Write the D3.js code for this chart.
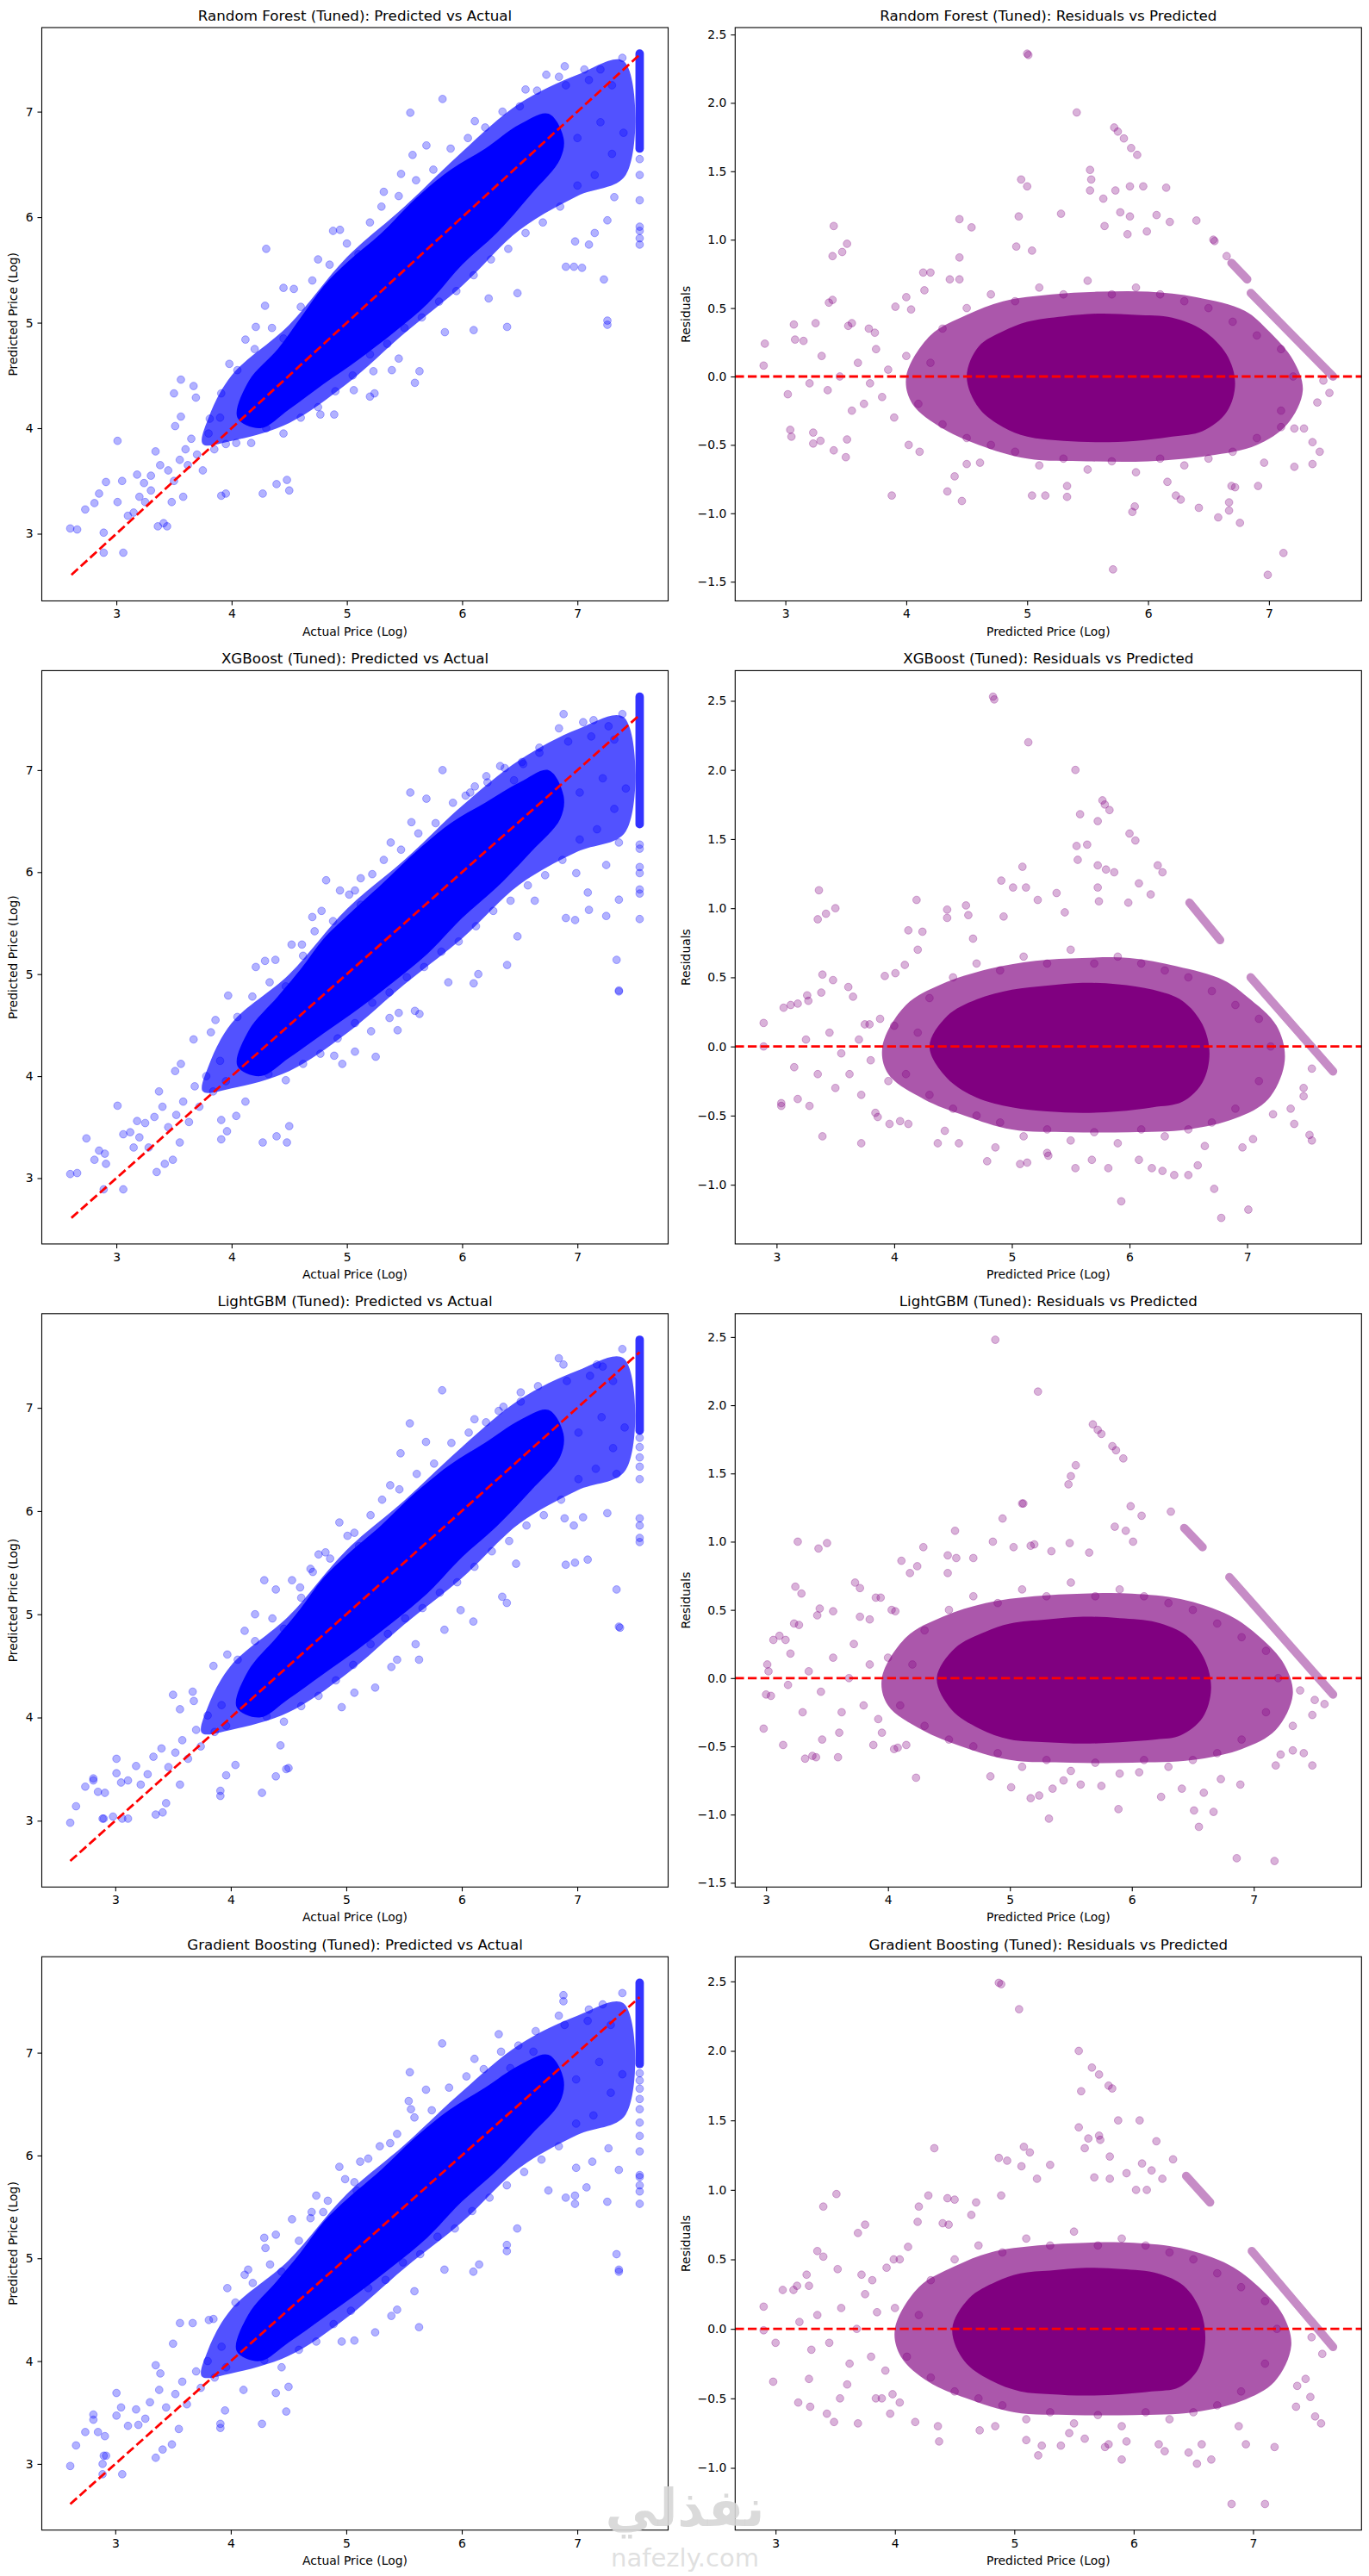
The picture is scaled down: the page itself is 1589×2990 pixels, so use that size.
<!DOCTYPE html>
<html>
<head>
<meta charset="utf-8">
<script src="https://cdn.jsdelivr.net/npm/d3@7"></script>
<style>
  body { margin: 0; background: #fff; }
  text { font-family: "DejaVu Sans", sans-serif; }
</style>
</head>
<body>
<svg id="fig"></svg>
<script>
// ---- data ----
var modelNames = ["Random Forest", "XGBoost", "LightGBM", "Gradient Boosting"];
var lineRange = [2.61, 7.54];   // y = x reference, min..max actual
var capActual = 7.54;           // actual prices are capped here

// predicted vs actual: scattered points [actual, predicted]
var rfPts = [[2.60,3.05],[2.66,3.04],[2.73,3.23],[2.81,3.29],[2.85,3.38],[2.91,3.49],[2.89,2.82],[3.06,2.82],[2.89,3.01],[3.01,3.88],[3.05,3.50],[3.01,3.30],[3.10,3.17],[3.18,3.56],[3.24,3.48],[3.30,3.41],[3.34,3.78],[3.36,3.07],[3.44,3.07],[3.41,3.10],[3.50,4.33],[3.56,4.46],[3.56,4.11],[3.60,3.80],[3.51,4.02],[3.67,4.40],[3.69,4.29],[3.91,4.33],[3.98,4.61],[3.81,4.09],[3.91,3.36],[3.95,3.38],[4.27,3.38],[4.39,3.47],[4.48,3.51],[4.50,3.41],[4.04,3.86],[4.17,3.86],[4.30,5.70],[4.29,5.16],[4.45,5.33],[4.54,5.32],[4.21,4.96],[4.12,4.84],[4.88,5.87],[4.94,5.88],[5.47,6.41],[5.55,6.99],[5.57,6.59],[5.83,7.12],[5.32,6.24],[5.69,6.68],[4.77,4.13],[4.89,4.13],[5.06,4.36],[5.20,4.30],[5.24,4.33],[5.23,4.54],[5.59,4.43],[5.63,4.54],[5.39,4.55],[5.45,4.66],[5.85,4.91],[6.10,4.93],[6.39,4.96],[6.48,5.28],[6.23,5.23],[6.90,5.53],[6.97,5.53],[7.04,5.52],[6.98,5.77],[7.10,5.74],[7.15,5.85],[7.23,5.41],[7.26,4.98],[7.26,5.02],[7.26,5.97],[7.32,6.19],[6.89,7.43],[7.06,7.40],[7.20,7.40],[7.39,7.51],[6.73,7.35],[6.84,7.33],[6.11,6.91],[6.55,7.21],[3.20,3.35],[3.25,3.30],[3.30,3.55],[3.38,3.65],[3.45,3.60],[3.50,3.50],[3.55,3.70],[3.62,3.65],[3.65,3.90],[3.70,3.75],[3.75,3.60],[3.80,3.95],[3.85,3.80],[3.90,4.10],[3.95,3.85],[3.48,3.30],[3.58,3.35],[3.15,3.20],
  [4.05,4.55],[4.20,4.75],[4.35,4.95],[4.45,4.85],[4.60,5.15],[4.70,5.40],[4.75,5.60],[4.85,5.55],[5.00,5.75],[5.10,5.65],[5.20,5.95],[5.30,6.10],[5.45,6.20],[5.60,6.35],[5.75,6.45],[5.90,6.65],[6.05,6.75],[6.20,6.85],[6.35,7.00],[6.50,7.05],[6.65,7.20],[6.90,7.25],[7.10,7.30],[7.30,7.25],[4.30,4.00],[4.45,3.95],[4.60,4.10],[4.75,4.20],[4.90,4.35],[5.05,4.50],[5.20,4.70],[5.35,4.80],[5.50,4.95],[5.65,5.05],[5.80,5.20],[5.95,5.30],[6.10,5.45],[6.25,5.60],[6.40,5.70],[6.55,5.85],[6.70,5.95],[6.85,6.10],[7.00,6.30],[7.15,6.40],[7.30,6.60],[7.40,6.80],[7.20,6.90],[7.00,6.75]];
var xgbPts = [[2.60,3.04],[2.66,3.05],[2.74,3.39],[2.81,3.18],[2.85,3.27],[2.90,3.24],[2.91,3.14],[2.89,2.89],[3.06,2.89],[3.01,3.71],[3.06,3.43],[3.12,3.45],[3.18,3.56],[3.25,3.54],[3.35,3.06],[3.42,3.14],[3.49,3.18],[3.37,3.85],[3.51,4.05],[3.56,4.12],[3.67,4.36],[3.82,4.43],[3.86,4.55],[3.97,4.79],[3.91,3.38],[3.91,3.57],[3.96,3.46],[4.04,3.61],[4.12,3.75],[4.27,3.35],[4.39,3.41],[4.48,3.35],[4.50,3.51],[4.21,5.07],[4.29,5.13],[4.38,5.14],[4.52,5.29],[4.61,5.29],[4.70,5.56],[4.82,5.92],[4.94,5.82],[5.07,5.82],[5.12,5.94],[5.38,6.29],[5.55,6.78],[5.56,6.49],[5.69,6.72],[5.83,7.00],[6.03,6.75],[6.11,6.84],[6.21,6.94],[6.33,7.04],[6.45,6.90],[6.53,7.06],[6.67,7.17],[6.84,7.41],[6.88,7.55],[7.05,7.47],[7.14,7.49],[7.27,7.43],[7.39,7.55],[4.89,4.20],[4.96,4.12],[5.07,4.24],[5.25,4.19],[5.21,4.44],[5.37,4.57],[5.44,4.45],[5.45,4.62],[5.59,4.64],[5.63,4.61],[5.88,4.92],[6.10,4.91],[6.14,5.00],[6.39,5.09],[6.48,5.37],[6.63,5.72],[6.90,5.55],[6.98,5.53],[6.99,5.99],[7.09,5.80],[7.10,5.63],[7.25,5.57],[7.36,5.73],[7.34,5.14],[7.36,4.84],[7.36,4.83],[7.25,6.07],[7.36,6.29],[3.20,3.40],[3.28,3.30],[3.33,3.60],[3.40,3.70],[3.45,3.50],[3.52,3.62],[3.58,3.75],[3.63,3.55],[3.68,3.90],[3.72,3.70],[3.78,4.00],[3.84,3.85],[3.90,4.15],[3.95,3.95],[3.15,3.30],[3.55,3.35],
  [4.05,4.58],[4.18,4.78],[4.33,4.92],[4.47,4.88],[4.62,5.18],[4.72,5.42],[4.78,5.62],[4.88,5.52],[5.02,5.78],[5.12,5.68],[5.22,5.98],[5.32,6.12],[5.47,6.22],[5.62,6.38],[5.77,6.48],[5.92,6.68],[6.07,6.78],[6.22,6.88],[6.37,7.02],[6.52,7.08],[6.67,7.22],[6.92,7.28],[7.12,7.33],[7.32,7.30],[4.32,4.02],[4.47,3.96],[4.62,4.12],[4.77,4.22],[4.92,4.37],[5.07,4.52],[5.22,4.72],[5.37,4.82],[5.52,4.97],[5.67,5.07],[5.82,5.22],[5.97,5.32],[6.12,5.47],[6.27,5.62],[6.42,5.72],[6.57,5.87],[6.72,5.97],[6.87,6.12],[7.02,6.32],[7.17,6.42],[7.32,6.62],[7.42,6.82],[7.22,6.92],[7.02,6.78]];
var lgbmPts = [[2.61,2.98],[2.66,3.14],[2.74,3.33],[2.81,3.39],[2.81,3.41],[2.85,3.28],[2.91,3.27],[2.89,3.02],[2.90,3.02],[2.98,3.04],[3.06,3.02],[3.11,3.02],[3.01,3.60],[3.01,3.46],[3.05,3.37],[3.11,3.39],[3.18,3.53],[3.35,3.06],[3.41,3.08],[3.44,3.17],[3.50,4.22],[3.56,4.08],[3.67,4.25],[3.68,4.16],[3.85,4.50],[3.97,4.61],[3.91,3.29],[3.91,3.24],[3.96,3.44],[4.04,3.54],[4.27,3.27],[4.39,3.43],[4.48,3.50],[4.50,3.51],[4.43,3.73],[4.12,4.84],[4.21,5.00],[4.29,5.33],[4.39,5.24],[4.53,5.33],[4.60,5.26],[4.69,5.44],[4.82,5.60],[4.94,5.89],[5.07,5.79],[5.38,6.25],[5.47,6.56],[5.55,6.85],[5.69,6.67],[5.83,7.17],[6.11,6.89],[6.32,6.97],[6.51,7.15],[6.84,7.48],[6.88,7.42],[7.17,7.42],[7.22,7.40],[7.39,7.57],[4.96,4.10],[5.07,4.24],[5.25,4.29],[5.39,4.49],[5.44,4.56],[5.63,4.56],[5.60,4.71],[5.85,4.85],[5.99,5.04],[6.10,4.93],[6.39,5.11],[6.35,5.17],[6.47,5.49],[6.90,5.48],[6.98,5.50],[7.09,5.53],[6.97,5.86],[7.05,5.94],[6.89,5.93],[7.26,5.98],[7.34,6.36],[7.34,5.24],[7.36,4.88],[7.37,4.87],[3.22,3.35],[3.28,3.45],[3.33,3.62],[3.40,3.70],[3.46,3.52],[3.52,3.66],[3.58,3.78],[3.63,3.60],[3.70,3.88],[3.74,3.72],[3.80,4.02],[3.86,3.86],[3.92,4.12],[3.96,3.92],[3.56,3.35],
  [4.06,4.56],[4.21,4.74],[4.36,4.96],[4.46,4.86],[4.61,5.16],[4.71,5.41],[4.76,5.58],[4.86,5.54],[5.01,5.76],[5.11,5.66],[5.21,5.96],[5.31,6.11],[5.46,6.21],[5.61,6.36],[5.76,6.46],[5.91,6.66],[6.06,6.76],[6.21,6.86],[6.36,7.01],[6.51,7.06],[6.66,7.21],[6.91,7.26],[7.11,7.31],[7.31,7.26],[4.31,4.01],[4.46,3.96],[4.61,4.11],[4.76,4.21],[4.91,4.36],[5.06,4.51],[5.21,4.71],[5.36,4.81],[5.51,4.96],[5.66,5.06],[5.81,5.21],[5.96,5.31],[6.11,5.46],[6.26,5.61],[6.41,5.71],[6.56,5.86],[6.71,5.96],[6.86,6.11],[7.01,6.31],[7.16,6.41],[7.31,6.61],[7.41,6.81],[7.21,6.91],[7.01,6.76]];
var gbPts = [[2.61,2.98],[2.66,3.18],[2.74,3.31],[2.81,3.43],[2.81,3.48],[2.85,3.31],[2.91,3.27],[2.89,3.00],[2.90,3.08],[2.92,3.08],[2.89,2.90],[3.06,2.90],[3.01,3.69],[3.01,3.47],[3.05,3.55],[3.18,3.53],[3.11,3.37],[3.35,3.06],[3.41,3.14],[3.49,3.19],[3.35,3.96],[3.39,3.88],[3.50,4.17],[3.56,4.37],[3.67,4.37],[3.81,4.40],[3.85,4.41],[3.97,4.71],[3.91,3.35],[3.91,3.39],[3.95,3.52],[4.11,3.72],[4.27,3.39],[4.39,3.69],[4.48,3.51],[4.50,3.75],[4.12,4.84],[4.15,4.89],[4.29,5.20],[4.30,5.10],[4.39,5.23],[4.53,5.38],[4.70,5.45],[4.80,5.45],[4.94,5.89],[5.07,5.74],[5.12,5.94],[5.38,6.12],[5.54,6.53],[5.55,6.81],[5.56,6.45],[5.69,6.64],[5.83,7.09],[6.11,6.94],[6.32,7.18],[6.42,6.85],[6.62,7.01],[6.84,7.36],[6.88,7.56],[6.88,7.50],[7.10,7.42],[7.22,7.47],[7.39,7.58],[4.96,4.19],[5.07,4.20],[5.25,4.28],[5.39,4.44],[5.44,4.50],[5.63,4.33],[5.59,4.68],[5.85,4.89],[6.10,4.87],[6.15,4.94],[6.39,5.07],[6.39,5.13],[6.48,5.29],[6.75,5.66],[6.90,5.59],[6.98,5.53],[6.98,5.61],[6.99,5.88],[7.08,5.69],[7.13,5.94],[7.26,5.55],[7.36,5.86],[7.27,6.07],[7.34,5.04],[7.36,4.87],[7.36,4.89],[3.20,3.38],[3.26,3.44],[3.30,3.60],[3.38,3.72],[3.44,3.55],[3.52,3.68],[3.58,3.80],[3.62,3.58],[3.70,3.90],[3.74,3.74],[3.80,4.00],[3.86,3.84],[3.92,4.14],[3.96,3.94],[3.55,3.34],
  [4.04,4.57],[4.19,4.76],[4.34,4.94],[4.44,4.87],[4.59,5.17],[4.69,5.39],[4.74,5.61],[4.84,5.56],[4.99,5.77],[5.09,5.66],[5.19,5.97],[5.29,6.09],[5.44,6.21],[5.59,6.37],[5.74,6.44],[5.89,6.66],[6.04,6.77],[6.19,6.84],[6.34,7.01],[6.49,7.07],[6.64,7.21],[6.89,7.27],[7.09,7.31],[7.29,7.27],[4.29,4.01],[4.44,3.94],[4.59,4.11],[4.74,4.19],[4.89,4.36],[5.04,4.49],[5.19,4.71],[5.34,4.79],[5.49,4.96],[5.64,5.04],[5.79,5.21],[5.94,5.29],[6.09,5.46],[6.24,5.59],[6.39,5.71],[6.54,5.84],[6.69,5.96],[6.84,6.09],[6.99,6.31],[7.14,6.39],[7.29,6.61],[7.39,6.79],[7.19,6.91],[6.99,6.74]];

// dense saturated band and denser scatter around it, [actual, predicted] outlines
var rfCore = [[4.05,4.10],[4.15,4.45],[4.40,4.75],[4.60,5.05],[4.80,5.35],[5.00,5.57],[5.30,5.85],[5.60,6.18],[5.90,6.45],[6.20,6.65],[6.50,6.88],[6.75,6.98],[6.88,6.75],[6.85,6.55],[6.60,6.22],[6.30,5.85],[6.00,5.55],[5.70,5.18],[5.40,4.90],[5.10,4.65],[4.80,4.42],[4.50,4.18],[4.25,4.00]];
var rfHalo = [[3.75,3.85],[3.80,4.10],[4.00,4.50],[4.50,4.98],[5.00,5.62],[5.50,6.10],[6.00,6.62],[6.50,7.08],[7.00,7.35],[7.40,7.48],[7.42,6.40],[7.00,6.20],[6.50,5.88],[6.00,5.35],[5.50,4.90],[5.00,4.42],[4.50,4.05],[4.00,3.88]];
var xgbCore = [[4.05,4.10],[4.15,4.45],[4.40,4.78],[4.60,5.05],[4.80,5.35],[5.00,5.57],[5.30,5.88],[5.60,6.20],[5.90,6.48],[6.20,6.68],[6.50,6.88],[6.75,7.00],[6.88,6.75],[6.85,6.52],[6.60,6.20],[6.30,5.85],[6.00,5.55],[5.70,5.20],[5.40,4.92],[5.10,4.66],[4.80,4.42],[4.50,4.18],[4.25,4.00]];
var xgbHalo = [[3.75,3.85],[3.80,4.10],[4.00,4.52],[4.50,5.00],[5.00,5.64],[5.50,6.12],[6.00,6.65],[6.50,7.10],[7.00,7.40],[7.40,7.52],[7.42,6.40],[7.00,6.20],[6.50,5.88],[6.00,5.35],[5.50,4.90],[5.00,4.42],[4.50,4.05],[4.00,3.88]];
var lgbmCore = [[4.05,4.10],[4.15,4.45],[4.40,4.78],[4.60,5.05],[4.80,5.35],[5.00,5.57],[5.30,5.86],[5.60,6.18],[5.90,6.45],[6.20,6.66],[6.50,6.88],[6.75,6.98],[6.88,6.75],[6.85,6.52],[6.60,6.20],[6.30,5.85],[6.00,5.55],[5.70,5.20],[5.40,4.92],[5.10,4.66],[4.80,4.42],[4.50,4.18],[4.25,4.00]];
var lgbmHalo = [[3.75,3.85],[3.80,4.10],[4.00,4.50],[4.50,4.98],[5.00,5.62],[5.50,6.10],[6.00,6.62],[6.50,7.08],[7.00,7.36],[7.40,7.48],[7.42,6.40],[7.00,6.20],[6.50,5.88],[6.00,5.35],[5.50,4.90],[5.00,4.42],[4.50,4.05],[4.00,3.88]];
var gbCore = [[4.05,4.10],[4.15,4.45],[4.40,4.78],[4.60,5.05],[4.80,5.35],[5.00,5.57],[5.30,5.86],[5.60,6.18],[5.90,6.45],[6.20,6.66],[6.50,6.88],[6.75,6.98],[6.88,6.75],[6.85,6.52],[6.60,6.20],[6.30,5.85],[6.00,5.55],[5.70,5.20],[5.40,4.92],[5.10,4.66],[4.80,4.42],[4.50,4.18],[4.25,4.00]];
var gbHalo = [[3.75,3.85],[3.80,4.10],[4.00,4.50],[4.50,4.98],[5.00,5.62],[5.50,6.10],[6.00,6.62],[6.50,7.08],[7.00,7.36],[7.40,7.48],[7.42,6.40],[7.00,6.20],[6.50,5.88],[6.00,5.35],[5.50,4.90],[5.00,4.42],[4.50,4.05],[4.00,3.88]];

// column of capped actual prices: dense predicted range, then sparse ones
var rfCapDense = [7.55, 6.65],  rfCapPts = [6.55,6.40,6.16,5.91,5.87,5.80,5.74];
var xgbCapDense = [7.72, 6.47], xgbCapPts = [6.27,6.23,6.05,5.99,5.83,5.79,5.54];
var lgbmCapDense = [7.66, 6.78], lgbmCapPts = [6.71,6.62,6.52,6.43,6.31,5.93,5.86,5.74,5.70];
var gbCapDense = [7.68, 6.89],  gbCapPts = [6.80,6.73,6.65,6.55,6.45,6.32,6.19,6.04,5.81,5.79,5.71,5.65,5.53];

// residuals vs predicted: scattered points [predicted, residual]
var resRing = [[4.30,0.35],[4.50,0.50],[4.70,0.60],[4.90,0.55],[5.10,0.65],[5.30,0.60],[5.50,0.70],[5.70,0.60],[5.90,0.65],[6.10,0.60],[6.30,0.55],[6.50,0.50],[6.70,0.40],[6.90,0.30],[7.10,0.20],[7.20,0.00],[7.10,-0.25],[6.90,-0.45],[6.70,-0.55],[6.50,-0.60],[6.30,-0.65],[6.10,-0.60],[5.90,-0.70],[5.70,-0.62],[5.50,-0.68],[5.30,-0.60],[5.10,-0.65],[4.90,-0.55],[4.70,-0.50],[4.50,-0.45],[4.30,-0.35],[4.10,-0.20],[4.00,0.15],[4.20,0.10]];
var rfResPts = [[2.83,0.24],[2.82,0.08],[3.07,0.38],[3.08,0.27],[3.25,0.39],[3.15,0.26],[3.02,-0.13],[3.04,-0.39],[3.05,-0.44],[3.23,-0.41],[3.23,-0.49],[3.29,-0.47],[3.40,1.10],[3.51,0.97],[3.47,0.91],[3.39,0.88],[3.36,0.54],[3.39,0.56],[3.40,-0.54],[3.50,-0.59],[3.51,-0.46],[3.52,0.37],[3.55,0.39],[3.69,0.35],[3.74,0.32],[3.91,0.51],[4.00,0.58],[4.04,0.49],[3.88,-0.87],[4.14,0.76],[4.20,0.76],[4.15,0.63],[4.44,0.87],[4.54,1.09],[4.44,1.15],[4.36,0.71],[4.44,0.71],[4.34,-0.84],[4.46,-0.91],[4.40,-0.73],[4.11,-0.55],[4.02,-0.50],[4.50,-0.64],[4.61,-0.63],[4.93,1.17],[4.95,1.44],[5.00,1.39],[4.91,0.95],[5.04,0.92],[5.00,2.36],[5.01,2.35],[5.28,1.19],[5.41,1.93],[5.52,1.51],[5.53,1.44],[5.52,1.36],[5.72,1.82],[5.75,1.79],[5.80,1.74],[5.86,1.67],[5.91,1.62],[5.63,1.30],[5.73,1.36],[5.85,1.39],[5.96,1.39],[6.15,1.38],[5.77,1.20],[5.85,1.17],[5.64,1.10],[6.07,1.18],[6.40,1.14],[6.18,1.13],[5.99,1.06],[5.83,1.04],[6.54,1.00],[6.55,0.99],[6.65,0.88],[5.04,-0.87],[5.15,-0.87],[5.33,-0.88],[5.33,-0.80],[5.71,-1.41],[5.87,-0.99],[5.89,-0.95],[6.16,-0.77],[6.23,-0.87],[6.27,-0.90],[6.42,-0.96],[6.58,-1.03],[6.67,-0.98],[6.67,-0.92],[6.76,-1.07],[6.69,-0.80],[6.72,-0.81],[6.91,-0.80],[7.12,-1.29],[6.99,-1.45],[6.96,-0.63],[7.21,-0.66],[7.36,-0.64],[7.42,-0.55],[7.36,-0.48],[7.50,-0.12],[7.40,-0.19],[7.45,-0.03],[7.21,-0.38],[7.29,-0.38],[7.10,-0.37],[3.60,0.10],[3.70,-0.05],[3.65,-0.20],[3.80,-0.15],[3.85,0.05],[3.90,-0.30],[3.55,-0.25],[3.45,0.00],[3.35,-0.10],[3.20,-0.05],[3.30,0.15],[3.75,0.20]];
var xgbResPts = [[2.89,0.17],[2.89,0.00],[3.06,0.28],[3.12,0.30],[3.18,0.31],[3.26,0.37],[3.27,0.33],[3.36,1.13],[3.35,0.92],[3.42,0.96],[3.50,1.00],[3.39,0.52],[3.48,0.48],[3.61,0.43],[3.38,0.39],[3.04,-0.41],[3.04,-0.43],[3.28,-0.43],[3.18,-0.38],[3.39,-0.65],[3.72,-0.70],[3.65,0.36],[3.75,0.16],[3.79,0.16],[3.84,-0.48],[3.86,-0.51],[3.96,-0.56],[3.92,0.51],[4.01,0.53],[4.09,0.59],[4.12,0.84],[4.19,1.06],[4.20,0.70],[4.24,0.83],[4.05,-0.54],[4.12,-0.56],[4.37,-0.70],[4.43,-0.61],[4.55,-0.70],[4.45,0.99],[4.45,0.93],[4.61,1.02],[4.63,0.95],[4.67,0.78],[4.91,1.20],[4.93,0.94],[5.01,1.15],[5.09,1.30],[5.12,1.15],[5.14,2.20],[4.84,2.53],[4.85,2.51],[5.22,1.06],[5.38,1.11],[5.45,0.97],[5.54,2.00],[5.55,1.45],[5.56,1.35],[5.58,1.68],[5.64,1.46],[5.73,1.63],[5.77,1.78],[5.79,1.75],[5.83,1.71],[5.73,1.31],[5.80,1.28],[5.87,1.26],[6.00,1.54],[6.05,1.49],[6.24,1.31],[6.28,1.26],[6.08,1.18],[6.18,1.10],[5.99,1.04],[5.73,1.15],[5.74,1.05],[4.79,-0.83],[4.86,-0.73],[5.07,-0.85],[5.13,-0.84],[5.30,-0.77],[5.31,-0.79],[5.54,-0.88],[5.68,-0.82],[5.82,-0.88],[5.93,-1.12],[6.08,-0.82],[6.19,-0.88],[6.28,-0.90],[6.38,-0.93],[6.50,-0.93],[6.58,-0.86],[6.72,-1.03],[6.78,-1.24],[7.01,-1.18],[6.64,-0.72],[6.96,-0.73],[7.05,-0.67],[7.40,-0.56],[7.53,-0.64],[7.55,-0.68],[7.48,-0.36],[7.55,-0.16],[7.48,-0.30],[7.37,-0.45],[7.22,-0.49],[3.45,0.10],[3.55,-0.05],[3.62,-0.20],[3.70,0.05],[3.80,-0.10],[3.88,0.20],[3.35,-0.20],[3.25,0.05],[3.15,-0.15],[3.50,-0.30],[3.72,-0.35],[3.95,-0.25]];
var lgbmResPts = [[2.98,-0.37],[3.01,0.10],[3.02,0.05],[3.00,-0.12],[3.04,-0.13],[3.14,-0.49],[3.06,0.28],[3.11,0.31],[3.16,0.28],[3.20,0.18],[3.26,1.00],[3.24,0.67],[3.29,0.62],[3.23,0.40],[3.27,0.39],[3.43,0.95],[3.50,0.99],[3.44,0.51],[3.55,0.49],[3.42,0.46],[3.32,-0.59],[3.38,-0.57],[3.41,-0.58],[3.59,-0.58],[3.46,-0.45],[3.73,0.70],[3.77,0.66],[3.77,0.45],[3.85,0.43],[3.90,0.59],[3.94,0.59],[4.03,0.50],[4.06,0.49],[4.11,0.86],[4.18,0.77],[4.24,0.82],[4.29,0.96],[4.23,-0.73],[4.15,-0.49],[4.05,-0.52],[4.08,-0.51],[3.95,-0.40],[3.88,-0.49],[4.55,1.08],[4.56,0.88],[4.49,0.90],[4.49,0.77],[4.70,0.88],[4.86,1.00],[4.94,1.17],[5.03,0.96],[5.10,1.28],[5.11,1.28],[5.17,0.97],[5.20,0.98],[4.88,2.48],[5.23,2.10],[5.34,0.93],[5.48,1.42],[5.50,1.48],[5.54,1.56],[5.49,0.99],[5.65,0.92],[5.68,1.86],[5.72,1.82],[5.75,1.79],[5.84,1.70],[5.87,1.67],[5.93,1.61],[5.99,1.26],[6.08,1.19],[6.32,1.22],[6.01,1.00],[5.86,1.11],[5.95,1.08],[4.84,-0.72],[5.01,-0.80],[5.17,-0.88],[5.24,-0.86],[5.32,-1.03],[5.35,-0.81],[5.44,-0.75],[5.58,-0.78],[5.75,-0.79],[5.89,-0.96],[6.06,-0.69],[6.24,-0.87],[6.41,-0.81],[6.55,-1.09],[6.51,-0.97],[6.67,-0.98],[6.59,-0.84],[6.86,-1.32],[7.17,-1.34],[6.89,-0.78],[6.73,-0.74],[7.48,-0.64],[7.41,-0.55],[7.32,-0.53],[7.32,-0.35],[7.48,-0.27],[7.58,-0.19],[7.50,-0.16],[7.38,-0.09],[7.18,-0.64],[7.22,-0.56],[3.35,0.05],[3.45,-0.10],[3.55,0.15],[3.62,-0.25],[3.68,0.00],[3.80,-0.20],[3.85,0.10],[3.30,-0.25],[3.18,-0.05],[3.92,-0.30],[3.72,0.25],[3.60,-0.40]];
var gbResPts = [[2.90,0.16],[2.90,-0.01],[2.98,-0.38],[3.00,-0.10],[3.06,0.28],[3.15,0.28],[3.18,0.31],[3.28,0.31],[3.26,0.39],[3.19,-0.53],[3.29,-0.56],[3.43,-0.61],[3.49,-0.67],[3.69,-0.68],[3.54,-0.50],[3.28,-0.36],[3.40,0.88],[3.51,0.97],[3.35,0.56],[3.40,0.52],[3.52,0.43],[3.69,0.69],[3.75,0.75],[3.72,0.39],[3.81,0.35],[3.84,-0.50],[3.89,-0.50],[3.96,-0.61],[3.98,-0.47],[4.04,-0.53],[3.93,0.44],[3.99,0.50],[4.04,0.50],[4.11,0.59],[4.19,0.77],[4.20,0.88],[4.17,-0.67],[4.36,-0.70],[4.37,-0.81],[4.33,1.30],[4.28,0.96],[4.44,0.94],[4.50,0.93],[4.45,0.75],[4.40,0.76],[4.64,0.82],[4.68,0.91],[4.71,-0.73],[4.84,-0.70],[4.87,2.49],[4.89,2.48],[5.04,2.30],[4.87,1.23],[4.94,1.21],[4.89,0.96],[5.06,1.17],[5.08,1.31],[5.13,1.27],[5.19,1.08],[5.30,1.18],[5.54,2.00],[5.56,1.71],[5.65,1.88],[5.71,1.83],[5.79,1.75],[5.82,1.73],[5.54,1.45],[5.59,1.30],[5.62,1.37],[5.71,1.39],[5.72,1.36],[5.87,1.50],[6.05,1.50],[6.19,1.35],[5.80,1.24],[5.67,1.09],[5.80,1.08],[5.94,1.12],[6.07,1.19],[6.15,1.14],[6.33,1.22],[6.02,1.00],[6.11,1.00],[6.24,1.08],[5.10,-0.80],[5.20,-0.91],[5.23,-0.84],[5.39,-0.84],[5.46,-0.75],[5.59,-0.79],[5.76,-0.85],[5.79,-0.83],[5.90,-0.94],[5.94,-0.81],[6.21,-0.83],[6.26,-0.88],[6.46,-0.89],[6.53,-0.97],[6.57,-0.83],[6.65,-0.94],[6.82,-1.26],[7.10,-1.26],[6.94,-0.83],[7.18,-0.85],[6.88,-0.70],[7.52,-0.63],[7.57,-0.68],[7.48,-0.49],[7.44,-0.36],[7.58,-0.18],[7.49,-0.06],[7.36,-0.56],[7.37,-0.41],[3.35,0.10],[3.45,-0.10],[3.55,0.15],[3.62,-0.25],[3.68,0.00],[3.80,-0.20],[3.85,0.12],[3.30,-0.15],[3.20,0.05],[3.92,-0.30],[3.75,0.25],[3.60,-0.40]];

// dense clouds of residuals, [predicted, residual] outlines
var rfResCore = [[4.50,0.00],[4.60,0.22],[4.80,0.33],[5.00,0.40],[5.30,0.44],[5.60,0.46],[5.90,0.45],[6.20,0.43],[6.45,0.34],[6.65,0.16],[6.72,-0.05],[6.65,-0.26],[6.45,-0.40],[6.20,-0.44],[5.90,-0.47],[5.60,-0.48],[5.30,-0.47],[5.00,-0.44],[4.80,-0.37],[4.60,-0.23]];
var rfResHalo = [[4.00,0.00],[4.20,0.30],[4.50,0.45],[4.80,0.55],[5.20,0.60],[5.60,0.62],[6.00,0.62],[6.40,0.58],[6.80,0.48],[7.00,0.33],[7.20,0.12],[7.28,-0.10],[7.15,-0.35],[6.90,-0.50],[6.50,-0.58],[6.00,-0.62],[5.50,-0.62],[5.00,-0.60],[4.60,-0.50],[4.30,-0.38],[4.05,-0.20]];
var xgbResCore = [[4.30,0.00],[4.45,0.22],[4.70,0.34],[5.00,0.41],[5.30,0.44],[5.60,0.46],[5.90,0.45],[6.20,0.41],[6.45,0.33],[6.62,0.16],[6.68,-0.05],[6.62,-0.26],[6.45,-0.40],[6.20,-0.44],[5.90,-0.47],[5.60,-0.48],[5.30,-0.47],[5.00,-0.44],[4.70,-0.37],[4.45,-0.23]];
var xgbResHalo = [[3.90,0.00],[4.10,0.30],[4.40,0.45],[4.80,0.56],[5.20,0.62],[5.60,0.64],[6.00,0.64],[6.40,0.58],[6.80,0.48],[7.00,0.36],[7.25,0.15],[7.32,-0.10],[7.18,-0.38],[6.90,-0.52],[6.50,-0.60],[6.00,-0.62],[5.50,-0.62],[5.00,-0.60],[4.60,-0.50],[4.25,-0.38],[3.95,-0.20]];
var lgbmResCore = [[4.40,0.00],[4.55,0.22],[4.80,0.34],[5.00,0.40],[5.30,0.43],[5.60,0.45],[5.90,0.44],[6.20,0.41],[6.45,0.31],[6.60,0.13],[6.65,-0.08],[6.58,-0.29],[6.40,-0.42],[6.20,-0.45],[5.90,-0.47],[5.60,-0.48],[5.30,-0.47],[5.00,-0.45],[4.75,-0.37],[4.52,-0.23]];
var lgbmResHalo = [[3.95,0.00],[4.15,0.30],[4.45,0.45],[4.80,0.55],[5.20,0.60],[5.60,0.62],[6.00,0.62],[6.40,0.58],[6.80,0.46],[7.05,0.30],[7.25,0.10],[7.32,-0.12],[7.18,-0.38],[6.90,-0.52],[6.50,-0.60],[6.00,-0.62],[5.50,-0.62],[5.00,-0.60],[4.60,-0.50],[4.28,-0.38],[4.00,-0.20]];
var gbResCore = [[4.48,0.00],[4.62,0.22],[4.85,0.34],[5.05,0.40],[5.30,0.42],[5.60,0.44],[5.90,0.43],[6.20,0.40],[6.42,0.31],[6.56,0.13],[6.60,-0.08],[6.54,-0.29],[6.38,-0.42],[6.15,-0.45],[5.90,-0.47],[5.60,-0.48],[5.30,-0.47],[5.05,-0.45],[4.80,-0.37],[4.58,-0.23]];
var gbResHalo = [[4.00,0.00],[4.20,0.30],[4.50,0.45],[4.80,0.55],[5.20,0.60],[5.60,0.62],[6.00,0.62],[6.40,0.58],[6.80,0.46],[7.05,0.30],[7.25,0.10],[7.32,-0.12],[7.18,-0.38],[6.90,-0.52],[6.50,-0.60],[6.00,-0.62],[5.50,-0.62],[5.00,-0.60],[4.60,-0.50],[4.28,-0.38],[4.05,-0.20]];

// residuals of capped prices line up on a diagonal: [p1, r1, p2, r2]
var rfResDiag = [[6.69,0.83,6.82,0.71],[6.85,0.61,7.53,0.00]];
var xgbResDiag = [[6.51,1.04,6.77,0.77],[7.03,0.50,7.73,-0.18]];
var lgbmResDiag = [[6.43,1.10,6.58,0.96],[6.80,0.74,7.65,-0.12]];
var gbResDiag = [[6.44,1.10,6.64,0.91],[6.99,0.56,7.67,-0.13]];

var models = [
  {name: modelNames[0], pts: rfPts, core: rfCore, halo: rfHalo, capDense: rfCapDense, capPts: rfCapPts, resPts: rfResPts, resCore: rfResCore, resHalo: rfResHalo, resDiag: rfResDiag},
  {name: modelNames[1], pts: xgbPts, core: xgbCore, halo: xgbHalo, capDense: xgbCapDense, capPts: xgbCapPts, resPts: xgbResPts, resCore: xgbResCore, resHalo: xgbResHalo, resDiag: xgbResDiag},
  {name: modelNames[2], pts: lgbmPts, core: lgbmCore, halo: lgbmHalo, capDense: lgbmCapDense, capPts: lgbmCapPts, resPts: lgbmResPts, resCore: lgbmResCore, resHalo: lgbmResHalo, resDiag: lgbmResDiag},
  {name: modelNames[3], pts: gbPts, core: gbCore, halo: gbHalo, capDense: gbCapDense, capPts: gbCapPts, resPts: gbResPts, resCore: gbResCore, resHalo: gbResHalo, resDiag: gbResDiag}
];

// ---- layout ----
var W = 1589, H = 2990;
var colLeft = [48.5, 853.3], axW = 727, axH = 665.5;
var rowTop = [32, 778.4, 1524.8, 2271.2];
var ptR = 4.4;

var svg = d3.select("#fig").attr("width", W).attr("height", H);
svg.append("rect").attr("width", W).attr("height", H).attr("fill", "#fff");

// matplotlib-style 5% margins
function pad(ext) {
  var m = (ext[1] - ext[0]) * 0.05;
  return [ext[0] - m, ext[1] + m];
}

function frame(g, x, y, yTicks, yFmt, title, xLabel, yLabel, yLabelOff) {
  var xa = g.append("g")
      .attr("transform", "translate(0," + axH + ")")
      .call(d3.axisBottom(x).ticks(5).tickFormat(d3.format("d")).tickSize(5).tickPadding(5).tickSizeOuter(0));
  var ya = g.append("g")
      .call(d3.axisLeft(y).ticks(yTicks).tickFormat(yFmt).tickSize(5).tickPadding(5).tickSizeOuter(0));
  [xa, ya].forEach(function(a) {
    a.select(".domain").remove();
    a.selectAll("line").attr("stroke", "#000").attr("stroke-width", 1.1);
    a.selectAll("text").attr("font-size", 13.9).attr("fill", "#000")
      .attr("font-family", "DejaVu Sans, sans-serif");
  });
  g.append("rect")
      .attr("width", axW).attr("height", axH)
      .attr("fill", "none").attr("stroke", "#000").attr("stroke-width", 1.1);
  g.append("text")
      .attr("x", axW / 2).attr("y", -8.5)
      .attr("text-anchor", "middle").attr("font-size", 16.7)
      .text(title);
  g.append("text")
      .attr("x", axW / 2).attr("y", axH + 40)
      .attr("text-anchor", "middle").attr("font-size", 13.9)
      .text(xLabel);
  g.append("text")
      .attr("transform", "translate(" + yLabelOff + "," + (axH / 2) + ") rotate(-90)")
      .attr("text-anchor", "middle").attr("dy", "0.35em").attr("font-size", 13.9)
      .text(yLabel);
}

var blob = d3.line().curve(d3.curveCatmullRomClosed.alpha(0.5));

function dots(sel, data, cx, cy, color) {
  sel.append("g").selectAll("circle")
    .data(data)
    .enter().append("circle")
      .attr("cx", cx).attr("cy", cy)
      .attr("r", ptR)
      .attr("fill", color).attr("fill-opacity", 0.3)
      .attr("stroke", color).attr("stroke-opacity", 0.3).attr("stroke-width", 1);
}

models.forEach(function(m, i) {
  var top = rowTop[i];

  // ---------- predicted vs actual ----------
  var xs = m.pts.map(function(d) { return d[0]; }).concat(lineRange, [capActual]);
  var ys = m.pts.map(function(d) { return d[1]; }).concat(lineRange, m.capDense, m.capPts);
  var x = d3.scaleLinear().domain(pad(d3.extent(xs))).range([0, axW]);
  var y = d3.scaleLinear().domain(pad(d3.extent(ys))).range([axH, 0]);

  var g = svg.append("g").attr("transform", "translate(" + colLeft[0] + "," + top + ")");
  var clipId = "clipL" + i;
  g.append("clipPath").attr("id", clipId)
    .append("rect").attr("width", axW).attr("height", axH);
  var plot = g.append("g").attr("clip-path", "url(#" + clipId + ")");

  plot.append("path")
      .attr("d", blob(m.halo.map(function(d) { return [x(d[0]), y(d[1])]; })))
      .attr("fill", "blue").attr("fill-opacity", 0.68);
  plot.append("path")
      .attr("d", blob(m.core.map(function(d) { return [x(d[0]), y(d[1])]; })))
      .attr("fill", "blue");

  dots(plot, m.pts, function(d) { return x(d[0]); }, function(d) { return y(d[1]); }, "blue");

  // capped column
  plot.append("line")
      .attr("x1", x(capActual)).attr("x2", x(capActual))
      .attr("y1", y(m.capDense[0])).attr("y2", y(m.capDense[1]))
      .attr("stroke", "blue").attr("stroke-width", ptR * 2 + 1)
      .attr("stroke-linecap", "round").attr("stroke-opacity", 0.8);
  dots(plot, m.capPts, x(capActual), function(d) { return y(d); }, "blue");

  plot.append("line")
      .attr("x1", x(lineRange[0])).attr("y1", y(lineRange[0]))
      .attr("x2", x(lineRange[1])).attr("y2", y(lineRange[1]))
      .attr("stroke", "red").attr("stroke-width", 2.8)
      .attr("stroke-dasharray", "10.3,4.4");

  frame(g, x, y, 5, d3.format("d"),
        m.name + " (Tuned): Predicted vs Actual",
        "Actual Price (Log)", "Predicted Price (Log)", -33.2);

  // ---------- residuals vs predicted ----------
  var rxs = m.resPts.map(function(d) { return d[0]; });
  var rys = m.resPts.map(function(d) { return d[1]; });
  m.resDiag.forEach(function(s) { rxs.push(s[0], s[2]); rys.push(s[1], s[3]); });
  var rx = d3.scaleLinear().domain(pad(d3.extent(rxs))).range([0, axW]);
  var ry = d3.scaleLinear().domain(pad(d3.extent(rys))).range([axH, 0]);

  var gr = svg.append("g").attr("transform", "translate(" + colLeft[1] + "," + top + ")");
  var clipR = "clipR" + i;
  gr.append("clipPath").attr("id", clipR)
    .append("rect").attr("width", axW).attr("height", axH);
  var rplot = gr.append("g").attr("clip-path", "url(#" + clipR + ")");

  rplot.append("path")
      .attr("d", blob(m.resHalo.map(function(d) { return [rx(d[0]), ry(d[1])]; })))
      .attr("fill", "purple").attr("fill-opacity", 0.66);
  rplot.append("path")
      .attr("d", blob(m.resCore.map(function(d) { return [rx(d[0]), ry(d[1])]; })))
      .attr("fill", "purple");

  dots(rplot, m.resPts.concat(resRing), function(d) { return rx(d[0]); }, function(d) { return ry(d[1]); }, "purple");

  rplot.append("g").selectAll("line")
    .data(m.resDiag)
    .enter().append("line")
      .attr("x1", function(d) { return rx(d[0]); })
      .attr("y1", function(d) { return ry(d[1]); })
      .attr("x2", function(d) { return rx(d[2]); })
      .attr("y2", function(d) { return ry(d[3]); })
      .attr("stroke", "purple").attr("stroke-width", ptR * 2 + 1)
      .attr("stroke-linecap", "round").attr("stroke-opacity", 0.45);

  rplot.append("line")
      .attr("x1", 0).attr("x2", axW)
      .attr("y1", ry(0)).attr("y2", ry(0))
      .attr("stroke", "red").attr("stroke-width", 2.8)
      .attr("stroke-dasharray", "10.3,4.4");

  frame(gr, rx, ry, 8, d3.format(".1f"),
        m.name + " (Tuned): Residuals vs Predicted",
        "Predicted Price (Log)", "Residuals", -57.2);
});

// site watermark over the bottom of the figure
svg.append("text")
    .attr("x", 795).attr("y", 2932)
    .attr("text-anchor", "middle")
    .attr("font-size", 60).attr("font-weight", "bold")
    .attr("textLength", 185).attr("lengthAdjust", "spacingAndGlyphs")
    .attr("fill", "#d6d6d6").attr("fill-opacity", 0.9)
    .text("نفذلي");
svg.append("text")
    .attr("x", 795).attr("y", 2979)
    .attr("text-anchor", "middle")
    .attr("font-size", 28)
    .attr("textLength", 172).attr("lengthAdjust", "spacingAndGlyphs")
    .attr("fill", "#dcdcdc").attr("fill-opacity", 0.9)
    .text("nafezly.com");
</script>
</body>
</html>
